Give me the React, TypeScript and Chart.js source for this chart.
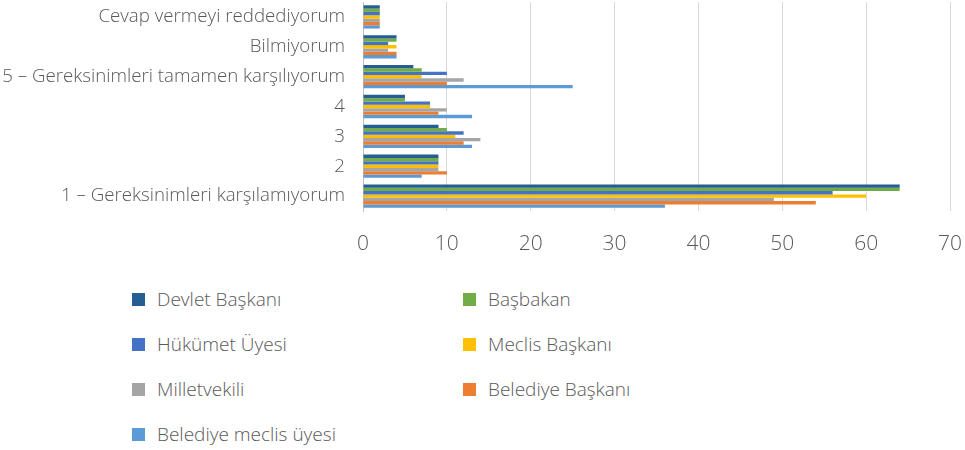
import React, { useEffect, useRef } from "react";
import { Chart, registerables } from "chart.js";

Chart.register(...registerables);

const categories = [
  "Cevap vermeyi reddediyorum",
  "Bilmiyorum",
  "5 – Gereksinimleri tamamen karşılıyorum",
  "4",
  "3",
  "2",
  "1 – Gereksinimleri karşılamıyorum",
];

const seriesNames = [
  "Devlet Başkanı",
  "Başbakan",
  "Hükümet Üyesi",
  "Meclis Başkanı",
  "Milletvekili",
  "Belediye Başkanı",
  "Belediye meclis üyesi",
];

const devletBaskani = [2, 4, 6, 5, 9, 9, 64];
const basbakan = [2, 4, 7, 5, 10, 9, 64];
const hukumetUyesi = [2, 3, 10, 8, 12, 9, 56];
const meclisBaskani = [2, 4, 7, 8, 11, 9, 60];
const milletvekili = [2, 3, 12, 10, 14, 9, 49];
const belediyeBaskani = [2, 4, 10, 9, 12, 10, 54];
const belediyeMeclisUyesi = [2, 4, 25, 13, 13, 7, 36];

const seriesValues = [
  devletBaskani,
  basbakan,
  hukumetUyesi,
  meclisBaskani,
  milletvekili,
  belediyeBaskani,
  belediyeMeclisUyesi,
];

const seriesColors = [
  "#255E91",
  "#70AD47",
  "#4472C4",
  "#FFC000",
  "#A5A5A5",
  "#ED7D31",
  "#5B9BD5",
];

const xTicks = [0, 10, 20, 30, 40, 50, 60, 70];

const FONT = "'Open Sans', Roboto, sans-serif";
const TEXT = "#595959";

const zeroPad = (scale: any) => {
  scale.paddingTop = 0;
  scale.paddingBottom = 0;
  scale.paddingLeft = 0;
  scale.paddingRight = 0;
};

export default function App() {
  const ref = useRef<HTMLCanvasElement | null>(null);

  useEffect(() => {
    document.body.style.margin = "0";
    const ctx = ref.current;
    if (!ctx) return;
    const chart = new Chart(ctx, {
      type: "bar",
      data: {
        labels: categories,
        datasets: seriesNames.map((name, i) => ({
          label: name,
          data: seriesValues[i],
          backgroundColor: seriesColors[i],
          borderWidth: 0,
          categoryPercentage: 0.78,
          barPercentage: 1.0,
        })),
      },
      options: {
        indexAxis: "y",
        animation: false,
        responsive: false,
        maintainAspectRatio: false,
        layout: { padding: { top: 2, right: 15, left: 0, bottom: 0 } },
        plugins: {
          legend: { display: false },
          tooltip: { enabled: false },
        },
        scales: {
          x: {
            min: 0,
            max: 70,
            afterBuildTicks: (scale: any) => {
              scale.ticks = xTicks.map((v) => ({ value: v }));
            },
            afterFit: (scale: any) => {
              scale.height = 56;
              zeroPad(scale);
            },
            grid: {
              color: "#D9D9D9",
              lineWidth: 1,
              drawTicks: false,
            },
            border: { display: false },
            ticks: {
              color: TEXT,
              padding: 20,
              font: { family: FONT, size: 21, weight: 300 },
            },
          },
          y: {
            afterFit: (scale: any) => {
              scale.width = 363;
              zeroPad(scale);
            },
            grid: { display: false, drawTicks: false },
            border: { display: true, color: "#BFBFBF", width: 1 },
            ticks: {
              color: TEXT,
              padding: 18,
              autoSkip: false,
              font: { family: FONT, size: 18.7, weight: 300 },
            },
          },
        },
      },
    });
    return () => chart.destroy();
  }, []);

  const legendPos = [
    { x: 132, y: 299 },
    { x: 463, y: 299 },
    { x: 132, y: 344 },
    { x: 463, y: 344 },
    { x: 132, y: 389 },
    { x: 463, y: 389 },
    { x: 132, y: 434 },
  ];

  return (
    <div
      style={{
        position: "fixed",
        left: 0,
        top: 0,
        width: 965,
        height: 450,
        background: "#fff",
        overflow: "hidden",
      }}
    >
      <canvas
        ref={ref}
        width={965}
        height={267}
        style={{ position: "absolute", left: 0, top: 0, width: 965, height: 267 }}
      />
      {seriesNames.map((name, i) => (
        <div
          key={name}
          style={{
            position: "absolute",
            left: legendPos[i].x,
            top: legendPos[i].y - 12,
            height: 24,
            display: "flex",
            alignItems: "center",
            fontFamily: FONT,
            fontWeight: 300,
            fontSize: 19,
            color: TEXT,
            whiteSpace: "nowrap",
          }}
        >
          <span
            style={{
              display: "inline-block",
              width: 13,
              height: 13,
              background: seriesColors[i],
              marginRight: 12,
            }}
          />
          <span>{name}</span>
        </div>
      ))}
    </div>
  );
}
